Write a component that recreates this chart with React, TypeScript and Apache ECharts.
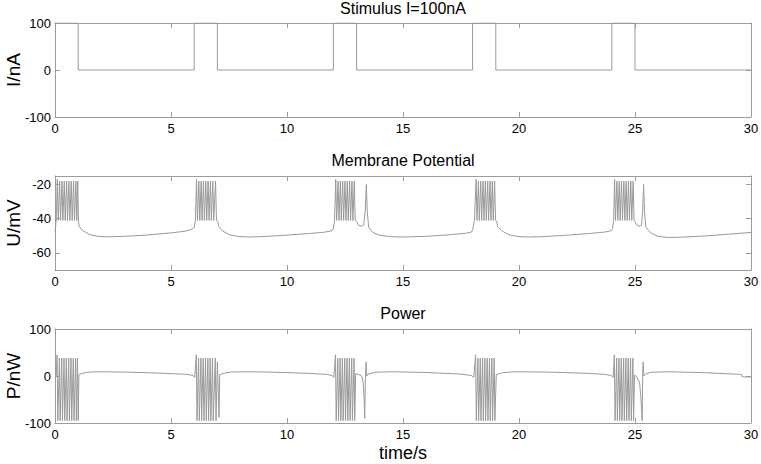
import React, { useEffect, useRef } from "react";
import * as echarts from "echarts";

const xTickLabels = [0, 5, 10, 15, 20, 25, 30];
const stimTicks = [-100, 0, 100];
const memTicks = [-60, -40, -20];
const powerTicks = [-100, 0, 100];

const titles = ["Stimulus I=100nA", "Membrane Potential", "Power"];
const yNames = ["I/nA", "U/mV", "P/nW"];
const xName = "time/s";

const stimulus: number[][] = [
  [0, 100], [1, 100], [1, 0], [6, 0], [6, 100], [7, 100], [7, 0], [12, 0], [12, 100], [13, 100],
  [13, 0], [18, 0], [18, 100], [19, 100], [19, 0], [24, 0], [24, 100], [25, 100], [25, 0], [30, 0],
];

const membrane: number[][] = [
  [0, -48], [0.05, -41], [0.1, -17], [0.14, -41], [0.2, -18], [0.24, -41], [0.3, -18], [0.34, -41],
  [0.4, -18], [0.44, -41], [0.5, -18], [0.54, -41], [0.6, -18], [0.64, -41], [0.7, -18], [0.74, -41],
  [0.8, -18], [0.84, -41], [0.9, -18], [0.94, -41], [0.98, -18], [1.01, -41], [1.04, -44.5], [1.2, -47],
  [1.5, -49.3], [1.8, -50.2], [2.2, -50.6], [3, -50.3], [4, -49.5], [5, -48.3], [5.6, -47.3], [5.9, -46.2], [6.0, -45],
  [6.05, -41], [6.1, -17], [6.14, -41], [6.2, -18], [6.24, -41], [6.3, -18], [6.34, -41], [6.4, -18],
  [6.44, -41], [6.5, -18], [6.54, -41], [6.6, -18], [6.64, -41], [6.7, -18], [6.74, -41], [6.8, -18],
  [6.84, -41], [6.92, -18], [6.96, -41], [7.02, -41.5], [7.06, -44.5], [7.2, -47], [7.5, -49.3], [7.9, -50.4],
  [8.4, -50.7], [9, -50.4], [10, -49.6], [11, -48.6], [11.6, -47.9], [11.95, -47], [12.0, -45.5],
  [12.05, -41], [12.1, -17], [12.14, -41], [12.2, -18], [12.24, -41], [12.3, -18], [12.34, -41], [12.4, -18],
  [12.44, -41], [12.5, -18], [12.54, -41], [12.6, -18], [12.64, -41], [12.7, -18], [12.74, -41], [12.8, -18],
  [12.84, -41], [12.9, -18], [12.94, -41], [13.0, -41.5], [13.06, -43.5], [13.2, -44.5], [13.3, -43.8],
  [13.37, -36], [13.42, -20], [13.46, -36], [13.52, -45], [13.7, -48], [14.0, -49.7], [14.5, -50.5],
  [15, -50.7], [16, -50.3], [17, -49.4], [17.7, -48.5], [17.95, -47.8], [18.0, -46.5],
  [18.08, -41], [18.15, -17], [18.19, -41], [18.25, -18], [18.29, -41], [18.35, -18], [18.39, -41], [18.45, -18],
  [18.49, -41], [18.55, -18], [18.59, -41], [18.65, -18], [18.69, -41], [18.75, -18], [18.79, -41], [18.85, -18],
  [18.89, -41], [18.95, -18], [18.99, -41], [19.04, -41.5], [19.08, -44.5], [19.25, -47], [19.55, -49.3],
  [19.95, -50.4], [20.4, -50.7], [21, -50.5], [22, -49.7], [23, -48.7], [23.7, -47.8], [23.98, -47], [24.03, -45.5],
  [24.08, -41], [24.12, -17], [24.16, -41], [24.22, -18], [24.26, -41], [24.32, -18], [24.36, -41], [24.42, -18],
  [24.46, -41], [24.52, -18], [24.56, -41], [24.62, -18], [24.66, -41], [24.72, -18], [24.76, -41], [24.82, -18],
  [24.86, -41], [24.92, -18], [24.96, -41], [25.0, -41.5], [25.06, -43.5], [25.2, -44.5], [25.28, -43.8],
  [25.33, -36], [25.37, -20], [25.41, -36], [25.47, -45], [25.7, -48.5], [26.0, -50.3], [26.4, -51],
  [27, -50.8], [28, -50.1], [29, -49.1], [30, -48],
];

const power: number[][] = [
  [0, 0], [0.05, 0], [0.09, 45], [0.12, -95], [0.19, 38], [0.22, -95], [0.29, 38], [0.32, -95],
  [0.39, 38], [0.42, -95], [0.49, 38], [0.52, -95], [0.59, 38], [0.62, -95], [0.69, 38], [0.72, -95],
  [0.79, 38], [0.82, -95], [0.89, 38], [0.92, -95], [0.97, 38], [1.0, -95], [1.03, 3], [1.2, 6],
  [1.5, 8.5], [2, 9], [3, 8.3], [4, 7], [5, 5], [5.7, 3.5], [5.95, 1], [6.02, -3],
  [6.09, 45], [6.12, -95], [6.19, 38], [6.22, -95], [6.29, 38], [6.32, -95], [6.39, 38], [6.42, -95],
  [6.49, 38], [6.52, -95], [6.59, 38], [6.62, -95], [6.69, 38], [6.72, -95], [6.79, 38], [6.82, -95],
  [6.91, 38], [6.94, -95], [7.0, 30], [7.07, -88], [7.1, 3], [7.3, 6], [7.6, 8.5], [8.2, 9],
  [9, 8.5], [10, 7.2], [11, 5.5], [11.7, 3.5], [11.95, 1], [12.02, -3],
  [12.09, 45], [12.12, -95], [12.19, 38], [12.22, -95], [12.29, 38], [12.32, -95], [12.39, 38], [12.42, -95],
  [12.49, 38], [12.52, -95], [12.59, 38], [12.62, -95], [12.69, 38], [12.72, -95], [12.79, 38], [12.82, -95],
  [12.89, 38], [12.92, -95], [12.96, 5], [13.1, 3], [13.22, 0], [13.28, -12], [13.32, -45], [13.35, -90],
  [13.38, -5], [13.41, 30], [13.44, 0], [13.5, 4], [13.8, 8], [14.5, 9], [16, 7.5], [17.5, 4],
  [17.95, 1], [18.05, -3],
  [18.13, 45], [18.16, -95], [18.23, 38], [18.26, -95], [18.33, 38], [18.36, -95], [18.43, 38], [18.46, -95],
  [18.53, 38], [18.56, -95], [18.63, 38], [18.66, -95], [18.73, 38], [18.76, -95], [18.83, 38], [18.86, -95],
  [18.93, 38], [18.96, -95], [19.02, 3], [19.3, 7], [19.8, 9], [21, 8.5], [22, 7.3], [23, 5.5],
  [23.7, 3.5], [23.98, 1], [24.06, -3],
  [24.11, 45], [24.14, -95], [24.21, 38], [24.24, -95], [24.31, 38], [24.34, -95], [24.41, 38], [24.44, -95],
  [24.51, 38], [24.54, -95], [24.61, 38], [24.64, -95], [24.71, 38], [24.74, -95], [24.81, 38], [24.84, -95],
  [24.91, 38], [24.94, -95], [24.98, 2], [25.1, -3], [25.2, -15], [25.26, -50], [25.31, -95], [25.33, -5],
  [25.35, 30], [25.38, 0], [25.45, 4], [25.7, 8], [26.5, 9], [28, 7], [29.5, 3.5], [29.6, 3],
  [29.62, -2], [30, -2],
];

const FONT = "'Liberation Sans', Arial, Helvetica, sans-serif";
const AXIS = "#9c9c9c";
const LINE = "#9a9a9a";

export default function App() {
  const ref = useRef<HTMLDivElement>(null);
  useEffect(() => {
    if (!ref.current) return;
    const chart = echarts.init(ref.current, undefined, { renderer: "svg" });
    const tops = [23, 176, 329];
    const height = 94;
    const yRanges = [
      { min: -100, max: 100, ticks: stimTicks },
      { min: -70, max: -15, ticks: memTicks },
      { min: -100, max: 100, ticks: powerTicks },
    ];
    const grids = tops.map((t) => ({
      left: 55,
      width: 696,
      top: t,
      height,
      containLabel: false,
      outerBoundsMode: "none",
    }));
    const xAxes: any[] = [];
    const yAxes: any[] = [];
    tops.forEach((_, i) => {
      const base = {
        type: "value",
        gridIndex: i,
        min: 0,
        max: 30,
        splitLine: { show: false },
        axisLine: { show: true, onZero: false, lineStyle: { color: AXIS, width: 1 } },
        axisTick: { show: true, inside: true, length: 5, customValues: xTickLabels, lineStyle: { color: AXIS } },
      };
      xAxes.push({
        ...base,
        position: "bottom",
        axisLabel: { show: true, customValues: xTickLabels, color: "#000", fontSize: 13, fontFamily: FONT, margin: 5 },
      });
      xAxes.push({ ...base, position: "top", axisLabel: { show: false } });
      const r = yRanges[i];
      const ybase = {
        type: "value",
        gridIndex: i,
        min: r.min,
        max: r.max,
        splitLine: { show: false },
        axisLine: { show: true, onZero: false, lineStyle: { color: AXIS, width: 1 } },
        axisTick: { show: true, inside: true, length: 5, customValues: r.ticks, lineStyle: { color: AXIS } },
      };
      yAxes.push({
        ...ybase,
        position: "left",
        axisLabel: { show: true, customValues: r.ticks, color: "#000", fontSize: 13, fontFamily: FONT, margin: 4 },
      });
      yAxes.push({ ...ybase, position: "right", axisLabel: { show: false } });
    });
    const datasets = [stimulus, membrane, power];
    const series = datasets.map((d, i) => ({
      type: "line",
      xAxisIndex: i * 2,
      yAxisIndex: i * 2,
      data: d,
      showSymbol: false,
      symbol: "none",
      lineStyle: { color: LINE, width: 1 },
      silent: true,
    }));
    const titleY = [8, 160, 313];
    const graphic: any[] = titles.map((t, i) => ({
      type: "text",
      x: 403,
      y: titleY[i],
      style: {
        text: t,
        font: `16px ${FONT}`,
        fill: "#000",
        align: "center",
        verticalAlign: "middle",
        textAlign: "center",
        textVerticalAlign: "middle",
      },
    }));
    yNames.forEach((n, i) => {
      graphic.push({
        type: "text",
        x: 13,
        y: tops[i] + height / 2,
        rotation: Math.PI / 2,
        style: {
          text: n,
          font: `19px ${FONT}`,
          fill: "#000",
          align: "center",
          verticalAlign: "middle",
          textAlign: "center",
          textVerticalAlign: "middle",
        },
      });
    });
    graphic.push({
      type: "text",
      x: 403,
      y: 453,
      style: {
        text: xName,
        font: `18px ${FONT}`,
        fill: "#000",
        align: "center",
        verticalAlign: "middle",
        textAlign: "center",
        textVerticalAlign: "middle",
      },
    });
    chart.setOption({
      animation: false,
      backgroundColor: "#fff",
      textStyle: { fontFamily: FONT },
      grid: grids,
      xAxis: xAxes,
      yAxis: yAxes,
      series,
      graphic,
    });
    return () => chart.dispose();
  }, []);
  return (
    <div
      ref={ref}
      style={{ position: "fixed", left: 0, top: 0, width: 761, height: 464, background: "#fff" }}
    />
  );
}
